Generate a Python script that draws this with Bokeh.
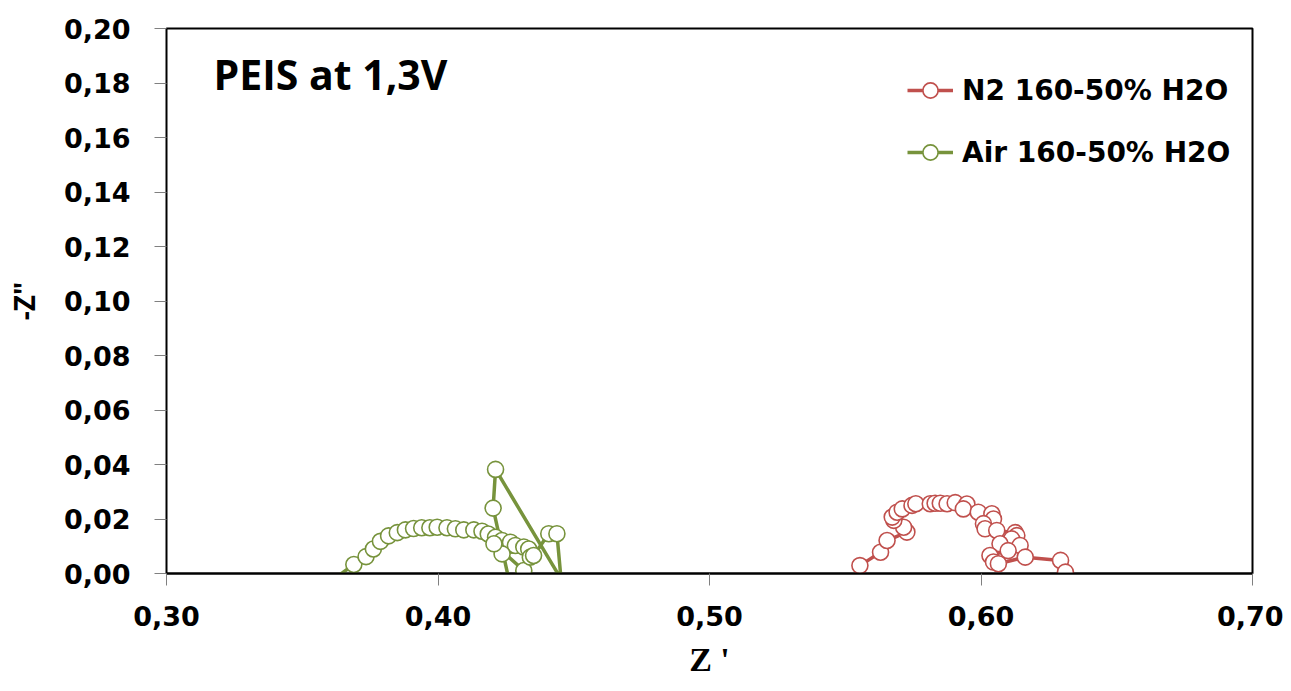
from bokeh.plotting import figure
from bokeh.models import (Range1d, FixedTicker, CustomJSTickFormatter, Legend, LegendItem,
                          Label, ColumnDataSource)
from bokeh.embed import file_html
from bokeh.resources import INLINE

# ---- data ----
n2_x = [0.5554, 0.5630, 0.5654, 0.5727, 0.5715, 0.5679, 0.5673, 0.5691, 0.5710, 0.5746,
        0.5760, 0.5813, 0.5831, 0.5850, 0.5875, 0.5905, 0.5948, 0.5935, 0.5990, 0.6040,
        0.6046, 0.6009, 0.6015, 0.6058, 0.6126, 0.6132, 0.6113, 0.6070, 0.6144, 0.6100,
        0.6033, 0.6046, 0.6064, 0.6163, 0.6293, 0.6311]
n2_y = [0.0029, 0.0078, 0.0121, 0.0152, 0.0170, 0.0195, 0.0207, 0.0225, 0.0237, 0.0250,
        0.0256, 0.0256, 0.0258, 0.0258, 0.0256, 0.0260, 0.0255, 0.0237, 0.0225, 0.0219,
        0.0200, 0.0183, 0.0164, 0.0158, 0.0150, 0.0139, 0.0127, 0.0109, 0.0103, 0.0084,
        0.0066, 0.0042, 0.0036, 0.0060, 0.0048, 0.0005]

air_x = [0.3590, 0.3690, 0.3735, 0.3762, 0.3788, 0.3818, 0.3850, 0.3880, 0.3910, 0.3940,
         0.3970, 0.3997, 0.4033, 0.4064, 0.4095, 0.4132, 0.4162, 0.4185, 0.4212, 0.4236,
         0.4267, 0.4285, 0.4316, 0.4334, 0.4236, 0.4206, 0.4316, 0.4340, 0.4352, 0.4408,
         0.4438, 0.4455, 0.4265, 0.4203, 0.4212, 0.4465]
air_y = [-0.0040, 0.0033, 0.0062, 0.0090, 0.0118, 0.0138, 0.0150, 0.0160, 0.0165, 0.0168,
         0.0168, 0.0170, 0.0168, 0.0164, 0.0160, 0.0160, 0.0155, 0.0145, 0.0133, 0.0121,
         0.0115, 0.0103, 0.0097, 0.0090, 0.0072, 0.0109, 0.0011, 0.0060, 0.0066, 0.0146,
         0.0146, -0.0040, -0.0040, 0.0240, 0.0382, -0.0040]

y_ticks = [0.00, 0.02, 0.04, 0.06, 0.08, 0.10, 0.12, 0.14, 0.16, 0.18, 0.20]
x_ticks = [0.30, 0.40, 0.50, 0.60, 0.70]

labels = ["N2 160-50% H2O", "Air 160-50% H2O"]
colors = ["#C0504D", "#77933C"]

# ---- figure ----
p = figure(width=1283, height=683, output_backend="svg", toolbar_location=None,
           x_range=Range1d(0.30, 0.70), y_range=Range1d(0.0, 0.20),
           min_border_left=166, min_border_right=31, min_border_top=28, min_border_bottom=110)
p.xgrid.visible = False
p.ygrid.visible = False
p.outline_line_color = "black"
p.outline_line_width = 2
p.background_fill_color = "white"
p.border_fill_color = "white"

fmt = CustomJSTickFormatter(code="return tick.toFixed(2).replace('.', ',');")

p.yaxis.ticker = FixedTicker(ticks=y_ticks)
p.yaxis.formatter = fmt
p.yaxis.minor_tick_line_color = None
p.yaxis.major_tick_in = 0
p.yaxis.major_tick_out = 12
p.yaxis.major_tick_line_color = "#808080"
p.yaxis.axis_line_color = None
p.yaxis.major_label_text_font = "DejaVu Sans"
p.yaxis.major_label_text_font_style = "bold"
p.yaxis.major_label_text_font_size = "27px"
p.yaxis.major_label_text_color = "black"
p.yaxis.major_label_standoff = 24
p.yaxis.axis_label = '-Z"'
p.yaxis.axis_label_text_font = "Open Sans"
p.yaxis.axis_label_text_font_style = "bold"
p.yaxis.axis_label_text_font_size = "28px"
p.yaxis.axis_label_text_color = "black"
p.yaxis.axis_label_standoff = 18

p.xaxis.ticker = FixedTicker(ticks=x_ticks)
p.xaxis.formatter = fmt
p.xaxis.minor_tick_line_color = None
p.xaxis.major_tick_in = 0
p.xaxis.major_tick_out = 12
p.xaxis.major_tick_line_color = "#808080"
p.xaxis.axis_line_color = "black"
p.xaxis.axis_line_width = 2
p.xaxis.major_label_text_font = "DejaVu Sans"
p.xaxis.major_label_text_font_style = "bold"
p.xaxis.major_label_text_font_size = "27px"
p.xaxis.major_label_text_color = "black"
p.xaxis.major_label_standoff = 20
p.xaxis.axis_label = "Z '"
p.xaxis.axis_label_text_font = "Liberation Serif"
p.xaxis.axis_label_text_font_style = "bold"
p.xaxis.axis_label_text_font_size = "34px"
p.xaxis.axis_label_text_color = "black"
p.xaxis.axis_label_standoff = 12

items = []
for xs, ys, lab, col in [(n2_x, n2_y, labels[0], colors[0]), (air_x, air_y, labels[1], colors[1])]:
    src = ColumnDataSource(dict(x=xs, y=ys))
    lr = p.line("x", "y", source=src, line_color=col, line_width=3.5)
    sr = p.scatter("x", "y", source=src, marker="circle", size=16, fill_color="white",
                   line_color=col, line_width=1.6)
    items.append(LegendItem(label=lab, renderers=[lr, sr]))

legend = Legend(items=items, location=(741, 402), orientation="vertical",
                glyph_width=46, glyph_height=38, label_height=38, spacing=24,
                label_standoff=9, padding=0, margin=0,
                border_line_color=None, background_fill_alpha=0,
                label_text_font="DejaVu Sans", label_text_font_style="bold",
                label_text_font_size="28px", label_text_color="black")
p.add_layout(legend, "center")

title = Label(x=47, y=500, x_units="screen", y_units="screen", text="PEIS at 1,3V",
              text_font="Open Sans", text_font_style="bold", text_font_size="41px",
              text_color="black", text_baseline="alphabetic")
p.add_layout(title)

open("out.html", "w").write(file_html(p, INLINE))
